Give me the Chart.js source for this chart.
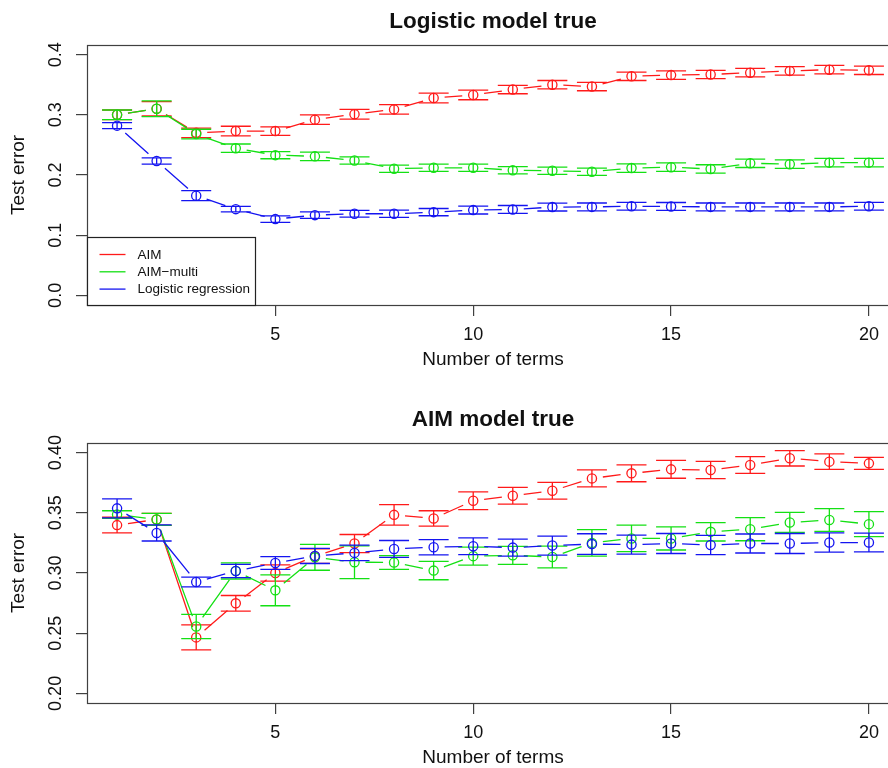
<!DOCTYPE html>
<html>
<head>
<meta charset="utf-8">
<script src="https://cdn.jsdelivr.net/npm/chart.js@4/dist/chart.umd.min.js"></script>
<style>
  html, body { margin: 0; padding: 0; background: #fff; overflow: hidden; width: 888px; height: 768px; }
  .panel { position: absolute; left: 0; width: 910px; height: 398px; }
</style>
</head>
<body>
<div class="panel" style="top:0"><canvas id="logitChart" width="910" height="398"></canvas></div>
<div class="panel" style="top:398px"><canvas id="aimChart" width="910" height="398"></canvas></div>
<script>
// Number of terms in the fitted model
const terms = [1, 2, 3, 4, 5, 6, 7, 8, 9, 10, 11, 12, 13, 14, 15, 16, 17, 18, 19, 20];
const xTicks = [5, 10, 15, 20];

const seriesNames = ['AIM', 'AIM\u2212multi', 'Logistic regression'];
const seriesColors = ['#ff1a1a', '#14e014', '#1414f0'];

// Panel 1: logistic model true (mean test error and its +/- half-width)
const logitAim = [0.300, 0.310, 0.270, 0.273, 0.273, 0.292, 0.301, 0.309, 0.328, 0.333,
                  0.342, 0.350, 0.347, 0.364, 0.366, 0.367, 0.370, 0.373, 0.375, 0.374];
const logitAimErr = [0.008, 0.012, 0.008, 0.008, 0.007, 0.008, 0.008, 0.008, 0.008, 0.008,
                     0.007, 0.007, 0.007, 0.007, 0.007, 0.007, 0.007, 0.007, 0.007, 0.007];
const logitMulti = [0.300, 0.310, 0.268, 0.2445, 0.233, 0.231, 0.224, 0.2105, 0.212, 0.212,
                    0.208, 0.207, 0.2055, 0.2115, 0.213, 0.210, 0.2195, 0.218, 0.2205, 0.2205];
const logitMultiErr = [0.008, 0.013, 0.008, 0.007, 0.006, 0.007, 0.006, 0.006, 0.006, 0.006,
                       0.006, 0.006, 0.006, 0.007, 0.007, 0.007, 0.007, 0.007, 0.007, 0.007];
const logitReg = [0.282, 0.2233, 0.1656, 0.1433, 0.1267, 0.1333, 0.1356, 0.1356, 0.1383, 0.1417,
                  0.1428, 0.1467, 0.147, 0.148, 0.1478, 0.147, 0.147, 0.147, 0.147, 0.148];
const logitRegErr = [0.005, 0.0053, 0.0083, 0.0045, 0.0055, 0.0055, 0.0055, 0.006, 0.006, 0.0065,
                     0.0065, 0.0065, 0.0065, 0.0065, 0.0065, 0.0065, 0.0065, 0.0065, 0.0065, 0.0065];
const logitYTicks = [0.0, 0.1, 0.2, 0.3, 0.4];
const logitYLabels = ['0.0', '0.1', '0.2', '0.3', '0.4'];

// Panel 2: AIM model true
const aimAim = [0.3398, 0.3445, 0.2465, 0.2748, 0.300, 0.314, 0.3245, 0.3483, 0.3453, 0.360,
                0.3642, 0.3683, 0.3786, 0.3828, 0.3861, 0.3856, 0.3897, 0.3953, 0.3925, 0.3911];
const aimAimErr = [0.0065, 0.005, 0.0104, 0.0065, 0.0067, 0.006, 0.0075, 0.0085, 0.0064, 0.0074,
                   0.007, 0.007, 0.007, 0.007, 0.0074, 0.0072, 0.007, 0.0064, 0.0064, 0.005];
const aimMulti = [0.3485, 0.3445, 0.2556, 0.3017, 0.2856, 0.313, 0.309, 0.3087, 0.302, 0.314,
                  0.3147, 0.3133, 0.325, 0.3287, 0.3287, 0.3342, 0.3364, 0.342, 0.344, 0.3406];
const aimMultiErr = [0.0032, 0.005, 0.0101, 0.0067, 0.0128, 0.0107, 0.0136, 0.0057, 0.0076, 0.0075,
                     0.0075, 0.009, 0.011, 0.011, 0.0096, 0.0076, 0.0096, 0.0083, 0.0094, 0.0104];
const aimReg = [0.3537, 0.3333, 0.2925, 0.3017, 0.3083, 0.3142, 0.3167, 0.320, 0.3214, 0.3222,
                0.3211, 0.3228, 0.324, 0.3236, 0.3245, 0.3233, 0.3245, 0.3245, 0.3253, 0.3253];
const aimRegErr = [0.0079, 0.0067, 0.004, 0.0055, 0.0053, 0.0063, 0.0065, 0.007, 0.0063, 0.007,
                   0.007, 0.0079, 0.0086, 0.0079, 0.0083, 0.008, 0.0079, 0.0083, 0.008, 0.0078];
const aimYTicks = [0.20, 0.25, 0.30, 0.35, 0.40];
const aimYLabels = ['0.20', '0.25', '0.30', '0.35', '0.40'];

const FONT = 'Liberation Sans, Arial, Helvetica, sans-serif';
const INK = '#111';
const FRAME = '#404040';
const GAP = 11;       // distance left open around each point on the connecting lines
const CAP = 15;       // half-width of the error-bar caps

// Connecting lines (broken around the points) and error bars, drawn under each series' circles
const errorBarPlugin = {
  id: 'errorBars',
  beforeDatasetDraw(chart, args) {
    const ds = chart.data.datasets[args.index];
    const xs = chart.scales.x, ys = chart.scales.y;
    const ctx = chart.ctx;
    const pts = ds.data.map(d => ({ x: xs.getPixelForValue(d.x), y: ys.getPixelForValue(d.y) }));
    ctx.save();
    const a = chart.chartArea;
    ctx.beginPath();
    ctx.rect(a.left, a.top, a.right - a.left, a.bottom - a.top);
    ctx.clip();
    ctx.strokeStyle = ds.borderColor;
    ctx.lineWidth = 1.3;
    ctx.beginPath();
    for (let i = 0; i < pts.length - 1; i++) {
      const p = pts[i], q = pts[i + 1];
      const dx = q.x - p.x, dy = q.y - p.y;
      const len = Math.hypot(dx, dy);
      if (len <= 2 * GAP) continue;
      const ux = dx / len, uy = dy / len;
      ctx.moveTo(p.x + ux * GAP, p.y + uy * GAP);
      ctx.lineTo(q.x - ux * GAP, q.y - uy * GAP);
    }
    ctx.stroke();
    ctx.beginPath();
    ds.data.forEach((d, i) => {
      const e = ds.errors[i];
      const x = pts[i].x;
      const yLo = ys.getPixelForValue(d.y - e);
      const yHi = ys.getPixelForValue(d.y + e);
      ctx.moveTo(x, yLo); ctx.lineTo(x, yHi);
      ctx.moveTo(x - CAP, yLo); ctx.lineTo(x + CAP, yLo);
      ctx.moveTo(x - CAP, yHi); ctx.lineTo(x + CAP, yHi);
    });
    ctx.stroke();
    ctx.restore();
  }
};

// Plot frame and the boxed legend in the lower-left corner
const framePlugin = {
  id: 'frameAndLegend',
  afterDraw(chart, args, opts) {
    const ctx = chart.ctx;
    const a = chart.chartArea;
    ctx.save();
    ctx.strokeStyle = FRAME;
    ctx.lineWidth = 1.2;
    ctx.strokeRect(Math.round(a.left) + 0.5, Math.round(a.top) + 0.5,
                   Math.round(a.right - a.left), Math.round(a.bottom - a.top));
    if (opts.legend) {
      const x0 = a.left + 0.5, w = 168, h = 68;
      const y0 = Math.round(a.bottom) + 0.5 - h;
      ctx.fillStyle = '#fff';
      ctx.fillRect(x0, y0, w, h);
      ctx.strokeStyle = '#222';
      ctx.strokeRect(x0, y0, w, h);
      ctx.font = '13.5px ' + FONT;
      ctx.textBaseline = 'middle';
      ctx.textAlign = 'left';
      chart.data.datasets.forEach((ds, i) => {
        const y = y0 + 17 + i * 17.3;
        ctx.strokeStyle = ds.borderColor;
        ctx.lineWidth = 1.3;
        ctx.beginPath();
        ctx.moveTo(x0 + 12, y); ctx.lineTo(x0 + 38, y);
        ctx.stroke();
        ctx.fillStyle = INK;
        ctx.fillText(ds.label, x0 + 50, y + 0.5);
      });
    }
    ctx.restore();
  }
};

function makeChart(id, titleText, values, errors, yTicks, yLabels, yTickPad, withLegend) {
  const xPad = 0.04 * (terms[terms.length - 1] - terms[0]);
  const yPad = 0.04 * (yTicks[yTicks.length - 1] - yTicks[0]);
  const order = [3, 2, 1];
  const datasets = values.map((vals, s) => ({
    label: seriesNames[s],
    data: terms.map((t, i) => ({ x: t, y: vals[i] })),
    errors: errors[s],
    borderColor: seriesColors[s],
    backgroundColor: 'rgba(0,0,0,0)',
    pointBackgroundColor: 'rgba(0,0,0,0)',
    pointBorderColor: seriesColors[s],
    pointBorderWidth: 1.3,
    pointRadius: 4.6,
    pointStyle: 'circle',
    showLine: false,
    order: order[s]
  }));
  return new Chart(document.getElementById(id), {
    type: 'line',
    data: { datasets },
    plugins: [errorBarPlugin, framePlugin],
    options: {
      responsive: false,
      animation: false,
      devicePixelRatio: 1,
      layout: { padding: { left: 0, right: 11, top: 0, bottom: 0 } },
      plugins: {
        legend: { display: false },
        tooltip: { enabled: false },
        title: {
          display: true,
          fullSize: false,
          text: titleText,
          color: INK,
          font: { family: FONT, size: 22.5, weight: 'bold' },
          padding: { top: 8.5, bottom: 9.5 }
        },
        frameAndLegend: { legend: withLegend }
      },
      scales: {
        x: {
          type: 'linear',
          position: 'bottom',
          min: terms[0] - xPad,
          max: terms[terms.length - 1] + xPad,
          afterBuildTicks: s => { s.ticks = xTicks.map(v => ({ value: v })); },
          afterFit: s => { s.height = 93; },
          ticks: {
            color: INK,
            font: { family: FONT, size: 18 },
            padding: 8,
            maxRotation: 0,
            callback: v => String(v)
          },
          grid: { drawOnChartArea: false, drawTicks: true, tickLength: 11, color: FRAME, lineWidth: 1.2 },
          border: { display: false },
          title: {
            display: true,
            text: 'Number of terms',
            color: INK,
            font: { family: FONT, size: 19 },
            padding: { top: 0, bottom: 26.6 }
          }
        },
        y: {
          type: 'linear',
          position: 'left',
          min: yTicks[0] - yPad,
          max: yTicks[yTicks.length - 1] + yPad,
          afterBuildTicks: s => { s.ticks = yTicks.map(v => ({ value: v })); },
          afterFit: s => { s.width = 87; },
          ticks: {
            color: INK,
            font: { family: FONT, size: 18 },
            padding: yTickPad,
            minRotation: 90,
            maxRotation: 90,
            crossAlign: 'center',
            callback: (v, i) => yLabels[i]
          },
          grid: { drawOnChartArea: false, drawTicks: true, tickLength: 11, color: FRAME, lineWidth: 1.2 },
          border: { display: false },
          title: {
            display: true,
            text: 'Test error',
            color: INK,
            font: { family: FONT, size: 19 },
            padding: { top: 7, bottom: 0 }
          }
        }
      }
    }
  });
}

makeChart('logitChart', 'Logistic model true',
  [logitAim, logitMulti, logitReg], [logitAimErr, logitMultiErr, logitRegErr],
  logitYTicks, logitYLabels, 7.5, true);
makeChart('aimChart', 'AIM model true',
  [aimAim, aimMulti, aimReg], [aimAimErr, aimMultiErr, aimRegErr],
  aimYTicks, aimYLabels, 2.5, false);
</script>
</body>
</html>
